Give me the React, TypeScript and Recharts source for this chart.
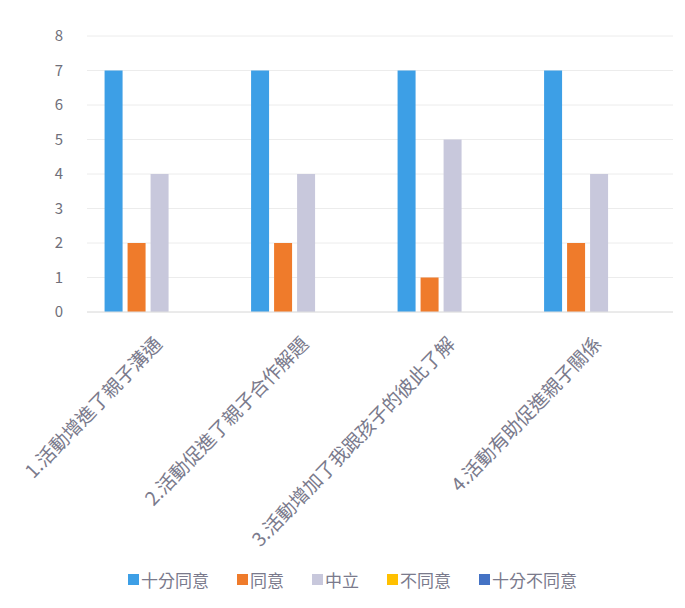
import React from "react";
import { BarChart, Bar, XAxis, YAxis, CartesianGrid, Legend } from "recharts";

const categories = [
  "1.活動增進了親子溝通",
  "2.活動促進了親子合作解題",
  "3.活動增加了我跟孩子的彼此了解",
  "4.活動有助促進親子關係",
];
const stronglyAgree = [7, 7, 7, 7];
const agree = [2, 2, 1, 2];
const neutral = [4, 4, 5, 4];
const disagree = [0, 0, 0, 0];
const stronglyDisagree = [0, 0, 0, 0];
const yTicks = [0, 1, 2, 3, 4, 5, 6, 7, 8];

const SERIES = [
  { key: "sa", name: "十分同意", color: "#3d9fe6" },
  { key: "a", name: "同意", color: "#ef7b2b" },
  { key: "n", name: "中立", color: "#c8c8dc" },
  { key: "d", name: "不同意", color: "#ffc000" },
  { key: "sd", name: "十分不同意", color: "#4472c4" },
];

const data = categories.map((c, i) => ({
  name: c,
  sa: stronglyAgree[i],
  a: agree[i],
  n: neutral[i],
  d: disagree[i],
  sd: stronglyDisagree[i],
}));

const FONT = "'Noto Sans CJK TC', 'Noto Sans', sans-serif";
const TEXT = "#7a7a8c";

function AngledTick(props: any) {
  const { x, y, payload } = props;
  return (
    <g transform={`translate(${x + 3},${y + 25})`}>
      <text
        transform="rotate(-46)"
        textAnchor="end"
        fill={TEXT}
        fontSize={19}
        fontFamily={FONT}
      >
        {payload.value}
      </text>
    </g>
  );
}

function LegendRow() {
  return (
    <div
      style={{
        display: "flex",
        justifyContent: "center",
        gap: 28,
        fontFamily: FONT,
        fontSize: 17,
        color: TEXT,
      }}
    >
      {SERIES.map((s) => (
        <span key={s.key} style={{ display: "flex", alignItems: "center", gap: 2 }}>
          <span style={{ width: 11, height: 11, background: s.color, display: "inline-block" }} />
          {s.name}
        </span>
      ))}
    </div>
  );
}

export default function App() {
  return (
    <div style={{ position: "absolute", left: 0, top: 0, background: "#fff" }}>
      <BarChart
        width={685}
        height={608}
        data={data}
        margin={{ top: 36, right: 12, left: 32, bottom: 9 }}
        barCategoryGap="12%"
        barGap={5}
      >
        <CartesianGrid vertical={false} stroke="#ececec" />
        <XAxis
          dataKey="name"
          tick={<AngledTick />}
          tickLine={false}
          axisLine={{ stroke: "#e0e0e0" }}
          interval={0}
          height={255}
        />
        <YAxis
          domain={[0, 8]}
          ticks={yTicks}
          width={55}
          tickLine={false}
          axisLine={false}
          tickMargin={18}
          tick={{ fill: "#6f6f7a", fontSize: 15, fontFamily: FONT }}
        />
        <Legend verticalAlign="bottom" height={32} content={<LegendRow />} />
        {SERIES.map((s) => (
          <Bar key={s.key} dataKey={s.key} name={s.name} fill={s.color} isAnimationActive={false} />
        ))}
      </BarChart>
    </div>
  );
}
